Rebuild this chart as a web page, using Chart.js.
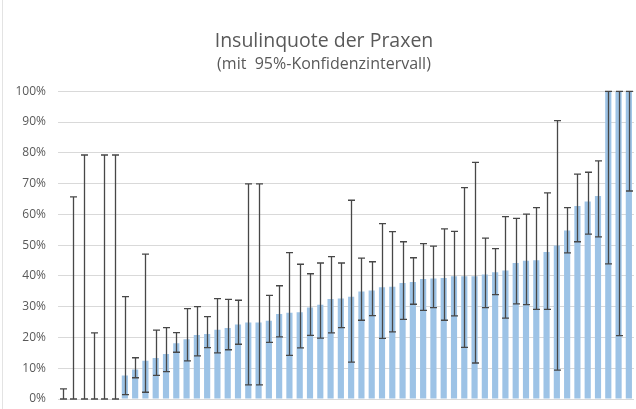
<!DOCTYPE html>
<html>
<head>
<meta charset="utf-8">
<script src="https://cdn.jsdelivr.net/npm/chart.js@4"></script>
<style>
  html, body { margin: 0; padding: 0; background: #fff; }
  #wrap { width: 636px; height: 409px; position: relative; }
</style>
</head>
<body>
<div id="wrap"><canvas id="chart"></canvas></div>
<script>
// Insulinquote je Praxis (sortiert), in %
const quote = [0, 0, 0, 0, 0, 0, 7.6, 9.6, 12.4, 13.3, 14.6, 18.1, 19.4, 20.8, 21.1, 22.5, 23.1, 24.2,
  24.9, 24.9, 25.4, 27.6, 28.0, 28.2, 29.7, 30.6, 32.5, 32.7, 33.2, 34.9, 35.3, 36.3, 36.5, 37.7, 38.0,
  39.0, 39.2, 39.3, 39.9, 39.9, 39.9, 40.5, 41.2, 41.8, 44.2, 44.9, 45.1, 47.8, 49.9, 54.8, 62.7, 64.2,
  66.0, 100, 100, 100];
// untere / obere Grenze des 95%-Konfidenzintervalls
const ciLow = [0, 0, 0, 0, 0, 0, 1.4, 6.9, 2.2, 7.7, 8.9, 15.2, 12.4, 14.0, 16.7, 15.0, 16.0, 17.8,
  4.6, 4.6, 18.4, 20.2, 14.2, 16.6, 20.7, 19.8, 21.5, 23.2, 12.0, 25.6, 27.1, 19.7, 21.8, 25.9, 30.8,
  28.8, 29.7, 25.6, 27.0, 16.8, 11.7, 29.7, 33.9, 26.3, 30.9, 30.7, 29.1, 29.1, 9.4, 47.5, 51.1, 53.6,
  52.7, 43.9, 20.6, 67.6];
const ciHigh = [3.3, 65.7, 79.3, 21.5, 79.3, 79.3, 33.3, 13.4, 47.1, 22.4, 23.2, 21.6, 29.4, 30.0, 26.8, 32.6, 32.4, 32.1,
  69.9, 69.9, 33.7, 36.8, 47.6, 43.8, 40.7, 44.2, 46.3, 44.2, 64.6, 45.8, 44.6, 57.0, 54.4, 51.1, 45.9,
  50.5, 49.7, 55.3, 54.5, 68.7, 76.9, 52.3, 48.9, 59.3, 58.7, 60.1, 62.2, 67.0, 90.5, 62.2, 73.1, 73.7,
  77.4, 100, 100, 100];
const labels = quote.map((_, i) => 'Praxis ' + (i + 1));
const yTicks = [0, 10, 20, 30, 40, 50, 60, 70, 80, 90, 100];

const errorBars = {
  id: 'errorBars',
  afterDatasetsDraw(chart) {
    const { ctx, scales: { x, y } } = chart;
    ctx.save();
    ctx.strokeStyle = '#474747';
    ctx.lineWidth = 1.3;
    for (let i = 0; i < quote.length; i++) {
      const px = Math.round(x.getPixelForValue(i)) + 0.5;
      const yl = y.getPixelForValue(ciLow[i]);
      const yh = y.getPixelForValue(ciHigh[i]);
      ctx.beginPath();
      ctx.moveTo(px, yl); ctx.lineTo(px, yh);
      ctx.moveTo(px - 3.5, yl); ctx.lineTo(px + 3.5, yl);
      ctx.moveTo(px - 3.5, yh); ctx.lineTo(px + 3.5, yh);
      ctx.stroke();
    }
    ctx.restore();
  }
};

const frame = {
  id: 'frame',
  beforeDraw(chart) {
    const ctx = chart.ctx;
    ctx.save();
    ctx.strokeStyle = '#e3e3e3';
    ctx.lineWidth = 1;
    ctx.beginPath();
    ctx.moveTo(2.5, 0); ctx.lineTo(2.5, chart.height);
    ctx.stroke();
    ctx.restore();
  }
};

new Chart(document.getElementById('chart'), {
  type: 'bar',
  data: {
    labels,
    datasets: [{
      data: quote,
      backgroundColor: '#9dc3e6',
      barPercentage: 0.6,
      categoryPercentage: 1
    }]
  },
  options: {
    responsive: true, maintainAspectRatio: false, animation: false,
    layout: { padding: { left: 14, right: 2, top: 0, bottom: 10 } },
    plugins: {
      legend: { display: false },
      tooltip: { enabled: false },
      title: {
        display: true, text: 'Insulinquote der Praxen', color: '#595959',
        font: { family: 'Open Sans', size: 19.5, weight: 'normal' },
        padding: { top: 30, bottom: 1 }
      },
      subtitle: {
        display: true, text: '(mit  95%-Konfidenzintervall)', color: '#595959',
        font: { family: 'Open Sans', size: 16, weight: 'normal' },
        padding: { top: 0, bottom: 17.7 }
      }
    },
    scales: {
      x: { display: false, offset: true },
      y: {
        min: 0, max: 100,
        afterFit: s => { s.width = 44; },
        afterBuildTicks: s => { s.ticks = yTicks.map(v => ({ value: v })); },
        border: { display: false },
        grid: { color: '#d9d9d9', lineWidth: 1, drawTicks: true, tickLength: 12, tickColor: 'rgba(0,0,0,0)' },
        ticks: {
          color: '#595959', padding: 0,
          font: { family: 'Open Sans', size: 12 },
          callback: v => v + '%'
        }
      }
    }
  },
  plugins: [errorBars, frame]
});
</script>
</body>
</html>
